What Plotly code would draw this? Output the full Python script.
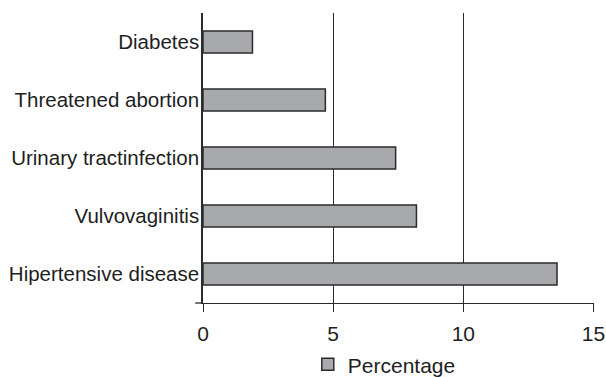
import plotly.graph_objects as go

# Conditions, listed top to bottom, and their share in percent
conditions = [
    "Diabetes",
    "Threatened abortion",
    "Urinary tractinfection",
    "Vulvovaginitis",
    "Hipertensive disease",
]
percentages = [1.9, 4.7, 7.4, 8.2, 13.6]
x_ticks = [0, 5, 10, 15]

INK = "#2b2b2b"
FONT = "Liberation Sans, Arial, sans-serif"

fig = go.Figure(
    go.Bar(
        x=percentages,
        y=conditions,
        orientation="h",
        name="Percentage",
        marker=dict(color="#a8a9ac", line=dict(color=INK, width=1.5)),
    )
)

fig.update_layout(
    width=606,
    height=377,
    margin=dict(l=203, r=12, t=13, b=74, autoexpand=False),
    paper_bgcolor="white",
    plot_bgcolor="white",
    bargap=0.62,
    font=dict(family=FONT, color="#1e1e1e", size=21),
    showlegend=True,
    legend=dict(
        orientation="h",
        x=0.268,
        xanchor="left",
        y=-0.142,
        yanchor="top",
        font=dict(size=21),
        bgcolor="rgba(0,0,0,0)",
    ),
    xaxis=dict(
        range=[0, 15.02],
        tickvals=x_ticks,
        ticktext=[str(v) for v in x_ticks],
        ticks="outside",
        ticklen=8,
        tickwidth=1.3,
        tickcolor=INK,
        showline=True,
        linecolor=INK,
        linewidth=1.3,
        showgrid=True,
        gridcolor=INK,
        gridwidth=1.2,
        zeroline=False,
        automargin=False,
        ticklabelstandoff=4,
        tickfont=dict(size=21),
    ),
    yaxis=dict(
        categoryorder="array",
        categoryarray=conditions,
        autorange="reversed",
        showline=True,
        linecolor=INK,
        linewidth=1.5,
        ticks="",
        showgrid=False,
        zeroline=False,
        automargin=False,
        ticklabelstandoff=-2,
        tickfont=dict(size=20.5),
    ),
    shapes=[
        # short stub of the baseline to the left of the value axis
        dict(
            type="line",
            xref="paper",
            yref="paper",
            x0=-0.02,
            x1=0,
            y0=0,
            y1=0,
            line=dict(color=INK, width=1.3),
        )
    ],
)

fig.write_html("out.html")
